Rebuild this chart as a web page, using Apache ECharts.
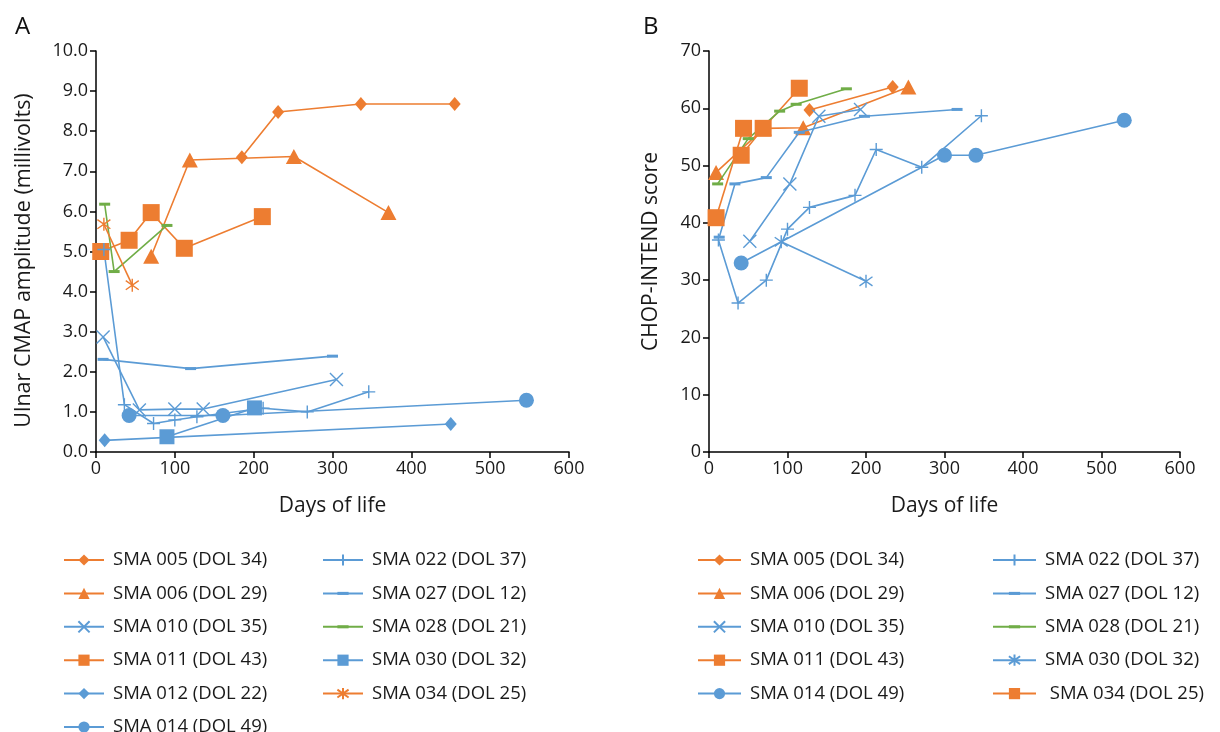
<!DOCTYPE html>
<html><head><meta charset="utf-8">
<script src="https://cdn.jsdelivr.net/npm/echarts@6/dist/echarts.min.js"></script>
<style>html,body{margin:0;padding:0;background:#fff}#c{width:1220px;height:732px}</style>
</head><body><div id="c"></div>
<script>
// ---------- Panel A: Ulnar CMAP amplitude (mV) vs days of life ----------
const a_sma005 = [[185,7.35],[231,8.48],[336,8.68],[455,8.68]];
const a_sma006 = [[70,4.88],[119,7.28],[251,7.37],[371,5.97]];
const a_sma010 = [[9,2.87],[55,1.05],[100,1.07],[136,1.07],[305,1.81]];
const a_sma011 = [[6,5.0],[42,5.28],[70,5.97],[112,5.08],[211,5.87]];
const a_sma012 = [[11,0.29],[450,0.70]];
const a_sma014 = [[42,0.91],[161,0.91],[546,1.29]];
const a_sma022 = [[10,5.05],[36,1.18],[73,0.71],[100,0.80],[128,0.88],[212,1.09],[268,1.0],[346,1.50]];
const a_sma027 = [[9,2.31],[120,2.08],[300,2.39]];
const a_sma028 = [[11,6.18],[23,4.50],[90,5.65]];
const a_sma030 = [[90,0.38],[201,1.10]];
const a_sma034 = [[10,5.68],[46,4.16]];

// ---------- Panel B: CHOP-INTEND score vs days of life ----------
const b_sma005 = [[128,59.7],[234,63.7]];
const b_sma006 = [[9,48.8],[70,56.5],[120,56.6],[254,63.7]];
const b_sma010 = [[52,36.8],[103,46.8],[140,58.6],[193,59.8]];
const b_sma011 = [[41,51.8],[69,56.5],[115,63.5]];
const b_sma014 = [[41,33.0],[300,51.8],[340,51.8],[529,57.9]];
const b_sma022 = [[12,37.0],[37,26.0],[73,30.0],[100,38.9],[128,42.7],[186,44.8],[213,52.8],[271,49.7],[347,58.7]];
const b_sma027 = [[13,37.5],[33,46.8],[73,47.9],[115,55.8],[198,58.6],[316,59.8]];
const b_sma028 = [[11,46.8],[50,54.7],[90,59.5],[111,60.7],[175,63.4]];
const b_sma030 = [[92,36.7],[200,29.8]];
const b_sma034 = [[9,40.9],[44,56.5]];

const legendA1 = ['SMA 005 (DOL 34)','SMA 006 (DOL 29)','SMA 010 (DOL 35)','SMA 011 (DOL 43)','SMA 012 (DOL 22)','SMA 014 (DOL 49)'];
const legendA2 = ['SMA 022 (DOL 37)','SMA 027 (DOL 12)','SMA 028 (DOL 21)','SMA 030 (DOL 32)','SMA 034 (DOL 25)'];
const legendB1 = ['SMA 005 (DOL 34) ','SMA 006 (DOL 29) ','SMA 010 (DOL 35) ','SMA 011 (DOL 43) ','SMA 014 (DOL 49) '];
const legendB2 = ['SMA 022 (DOL 37) ','SMA 027 (DOL 12) ','SMA 028 (DOL 21) ','SMA 030 (DOL 32) ',' SMA 034 (DOL 25)'];

const ORANGE = '#ED7D31', BLUE = '#5B9BD5', GREEN = '#70AD47';
const FONT = 'Open Sans';
const PLUS = 'path://M5 0L5 10M0 5L10 5';
const CROSS = 'path://M0 0L10 10M10 0L0 10';
const STAR = 'path://M0.6 1.5L9.4 8.5M9.4 1.5L0.6 8.5M5 0L5 10';
// square bounding box, short horizontal bar in the middle
const DASH = 'path://M0 0L0 0M11 11L11 11M0 4L11 4L11 7L0 7Z';

const mk = {
  diamond: {symbol:'diamond', symbolSize:[12,14], filled:true},
  triangle:{symbol:'triangle', symbolSize:[16,15], filled:true},
  square:  {symbol:'rect', symbolSize:[17,17], filled:true},
  bsquare: {symbol:'rect', symbolSize:[15,15], filled:true},
  circle:  {symbol:'circle', symbolSize:15, filled:true},
  plus:    {symbol:PLUS, symbolSize:13, filled:false},
  cross:   {symbol:CROSS, symbolSize:13, filled:false},
  star:    {symbol:STAR, symbolSize:13, filled:false},
  dash:    {symbol:DASH, symbolSize:11, filled:true}
};

function S(name, data, color, m, panel, z) {
  const k = mk[m];
  return {
    type:'line', name, data, xAxisIndex:panel, yAxisIndex:panel,
    symbol:k.symbol, symbolSize:k.symbolSize, showSymbol:true, z: z||2,
    lineStyle:{color, width:1.6},
    itemStyle: k.filled ? {color, borderWidth:0} : {color:'none', borderColor:color, borderWidth:1.4},
    emphasis:{disabled:true}, animation:false
  };
}

const series = [
  S(legendA1[0], a_sma005, ORANGE, 'diamond', 0),
  S(legendA1[1], a_sma006, ORANGE, 'triangle', 0),
  S(legendA1[2], a_sma010, BLUE, 'cross', 0),
  S(legendA1[3], a_sma011, ORANGE, 'square', 0),
  S(legendA1[4], a_sma012, BLUE, 'diamond', 0),
  S(legendA1[5], a_sma014, BLUE, 'circle', 0),
  S(legendA2[0], a_sma022, BLUE, 'plus', 0),
  S(legendA2[1], a_sma027, BLUE, 'dash', 0),
  S(legendA2[2], a_sma028, GREEN, 'dash', 0),
  S(legendA2[3], a_sma030, BLUE, 'bsquare', 0),
  S(legendA2[4], a_sma034, ORANGE, 'star', 0),

  S(legendB1[0], b_sma005, ORANGE, 'diamond', 1),
  S(legendB1[1], b_sma006, ORANGE, 'triangle', 1, 1),
  S(legendB1[2], b_sma010, BLUE, 'cross', 1),
  S(legendB1[3], b_sma011, ORANGE, 'square', 1),
  S(legendB1[4], b_sma014, BLUE, 'circle', 1),
  S(legendB2[0], b_sma022, BLUE, 'plus', 1),
  S(legendB2[1], b_sma027, BLUE, 'dash', 1),
  S(legendB2[2], b_sma028, GREEN, 'dash', 1),
  S(legendB2[3], b_sma030, BLUE, 'star', 1),
  S(legendB2[4], b_sma034, ORANGE, 'square', 1)
];

const axisCommon = {
  axisLine:{show:true, onZero:false, lineStyle:{color:'#000', width:1.5}},
  axisTick:{show:true, inside:false, length:6, lineStyle:{color:'#000', width:1.5}},
  splitLine:{show:false},
  axisLabel:{color:'#1a1a1a', fontSize:18, fontFamily:FONT, margin:8},
  nameTextStyle:{color:'#1a1a1a', fontSize:21, fontFamily:FONT}
};

function xAx(i){ return Object.assign({}, axisCommon, {type:'value', gridIndex:i, min:0, max:600, interval:100,
  name:'Days of life', nameLocation:'middle', nameGap:44}); }

function legend(data, left, iw) {
  return {data, orient:'vertical', left, top:550, height:190, padding:0, itemWidth:iw, itemHeight:14, itemGap:13.4,
    selectedMode:false, textStyle:{color:'#1a1a1a', fontSize:18.5, fontFamily:FONT, lineHeight:20, padding:[0,0,0,4]}};
}

const option = {
  backgroundColor:'#fff',
  animation:false,
  title:[
    {text:'A', left:10, top:10, textStyle:{fontSize:24, fontWeight:'normal', color:'#111', fontFamily:FONT}},
    {text:'B', left:638, top:10, textStyle:{fontSize:24, fontWeight:'normal', color:'#111', fontFamily:FONT}}
  ],
  grid:[
    {left:96, top:51, width:473, height:401},
    {left:709, top:51, width:471, height:401}
  ],
  xAxis:[xAx(0), xAx(1)],
  yAxis:[
    Object.assign({}, axisCommon, {type:'value', gridIndex:0, min:0, max:10, interval:1,
      axisLabel:Object.assign({}, axisCommon.axisLabel, {formatter:v=>v.toFixed(1)}),
      name:'Ulnar CMAP amplitude (millivolts)', nameLocation:'middle', nameGap:61,
      nameTextStyle:{color:'#1a1a1a', fontSize:21.5, fontFamily:FONT, padding:[0,18,0,0]}}),
    Object.assign({}, axisCommon, {type:'value', gridIndex:1, min:0, max:70, interval:10,
      name:'CHOP-INTEND score', nameLocation:'middle', nameGap:47})
  ],
  legend:[
    legend(legendA1, 63, 40),
    legend(legendA2, 322, 40),
    legend(legendB1, 697, 43),
    legend(legendB2, 992, 43)
  ],
  series
};

const chart = echarts.init(document.getElementById('c'), null, {renderer:'canvas'});
chart.setOption(option);
</script></body></html>
